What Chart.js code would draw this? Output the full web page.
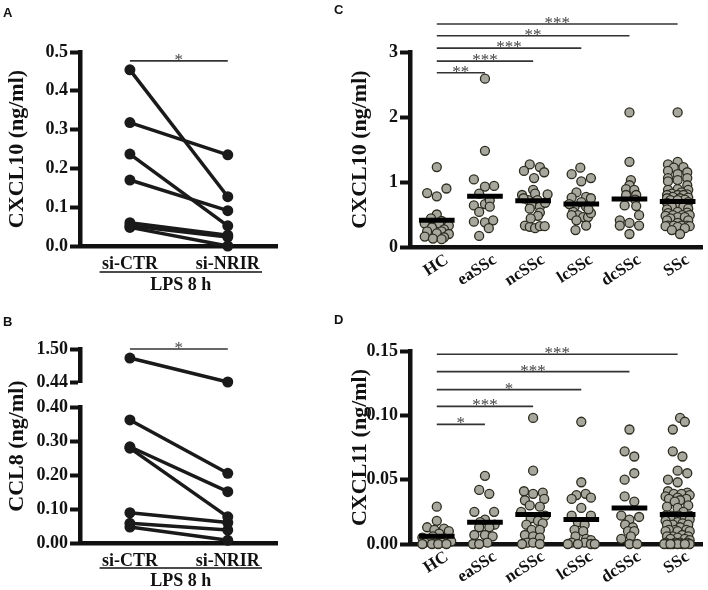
<!DOCTYPE html>
<html>
<head>
<meta charset="utf-8">
<script src="https://cdn.jsdelivr.net/npm/chart.js@4.4.1/dist/chart.umd.min.js"></script>
<style>
  html, body { margin: 0; padding: 0; background: #fff; }
  #fig { position: relative; width: 708px; height: 590px; overflow: hidden; }
  canvas { position: absolute; }
  .tag { position: absolute; font: bold 13px "Liberation Sans", Arial, sans-serif; color: #111; }
</style>
</head>
<body>
<div id="fig">
  <canvas id="chartA" width="300" height="295" style="left:0;top:0"></canvas>
  <canvas id="chartB" width="300" height="300" style="left:0;top:290px"></canvas>
  <canvas id="chartBTop" width="300" height="70" style="left:0;top:330px"></canvas>
  <canvas id="chartC" width="378" height="295" style="left:330px;top:0"></canvas>
  <canvas id="chartD" width="378" height="300" style="left:330px;top:290px"></canvas>
  <div class="tag" style="left:3px;top:5px">A</div>
  <div class="tag" style="left:3px;top:314px">B</div>
  <div class="tag" style="left:334px;top:2px">C</div>
  <div class="tag" style="left:334px;top:312px">D</div>
</div>
<script>
// panels A/B: paired siRNA values (ng/ml), index i of CTR pairs with index i of NRIR
const conditions = ["si-CTR", "si-NRIR"];
const cxcl10Ctr = [0.454, 0.318, 0.237, 0.170, 0.060, 0.052, 0.048];
const cxcl10Nrir = [0.127, 0.235, 0.052, 0.091, 0.028, 0.023, 0.0];
const ccl8Ctr = [1.21, 0.362, 0.283, 0.279, 0.089, 0.058, 0.047];
const ccl8Nrir = [0.44, 0.205, 0.151, 0.077, 0.060, 0.038, 0.008];
const ccl8LowTicks = [0, 0.1, 0.2, 0.3, 0.4];
const ccl8HighTicks = [0.44, 1.5];

// panels C/D: [value, jitter in category units]
const groups = ["HC", "eaSSc", "ncSSc", "lcSSc", "dcSSc", "SSc"];

const cxcl10HC = [[1.23,0],[0.90,0.2],[0.83,-0.2],[0.78,0],[0.50,0],[0.44,-0.12],[0.40,0.1],[0.36,-0.25],[0.36,0.05],[0.33,0.25],[0.30,-0.1],[0.27,0.15],[0.24,-0.2],[0.24,0.1],[0.21,0],[0.20,0.25],[0.16,-0.25],[0.15,0.15],[0.13,-0.08],[0.12,0.1]];
const cxcl10Ea = [[2.59,0],[1.48,0],[1.04,-0.23],[0.93,0],[0.94,0.19],[0.82,-0.12],[0.64,-0.23],[0.66,0],[0.72,0.1],[0.62,0.1],[0.54,-0.12],[0.39,-0.23],[0.38,0],[0.41,0.17],[0.29,0.08],[0.17,-0.12]];
const cxcl10Nc = [[1.27,-0.07],[1.17,-0.19],[1.23,0.14],[1.15,0.23],[1.06,0.02],[0.88,0],[0.82,0.04],[0.80,-0.23],[0.81,0.3],[0.72,-0.1],[0.72,0.09],[0.64,-0.03],[0.62,0.14],[0.59,-0.07],[0.53,0.14],[0.33,-0.17],[0.31,-0.07],[0.29,0.04],[0.32,0.14],[0.32,0.24],[0.75,-0.2],[0.68,0.25],[0.48,0.1],[0.44,-0.05]];
const cxcl10Lc = [[1.22,-0.02],[1.12,-0.2],[1.01,0],[1.06,0.2],[0.84,-0.1],[0.77,0.1],[0.75,0.2],[0.76,-0.2],[0.69,0],[0.62,-0.14],[0.62,0.1],[0.54,-0.17],[0.49,-0.07],[0.46,0.04],[0.46,0.14],[0.52,0.2],[0.49,-0.2],[0.33,0.1],[0.26,-0.12],[0.58,0.15],[0.66,-0.25],[0.41,-0.1]];
const cxcl10Dc = [[2.07,0],[1.31,0],[1.03,0.03],[0.95,0],[0.89,-0.07],[0.88,0.1],[0.80,-0.07],[0.80,0.14],[0.73,0.12],[0.64,-0.1],[0.63,0.14],[0.49,0.2],[0.41,-0.2],[0.33,-0.2],[0.37,0],[0.33,0.2],[0.20,0]];
const cxcl10SSc = [[2.07,0],[1.31,0],[1.27,-0.2],[1.23,0.12],[1.22,-0.08],[1.17,-0.2],[1.15,0.2],[1.12,0],[1.06,-0.2],[1.06,0.2],[1.03,0],[1.01,-0.2],[0.95,0.2],[0.89,0],[0.88,-0.2],[0.88,0.22],[0.84,0.08],[0.82,-0.12],[0.81,0.2],[0.80,-0.22],[0.80,0],[0.80,0.12],[0.77,-0.1],[0.76,0.22],[0.75,-0.22],[0.75,0.05],[0.73,0.15],[0.72,-0.15],[0.72,0],[0.69,0.22],[0.68,-0.22],[0.66,0.1],[0.64,-0.08],[0.64,0.2],[0.63,-0.2],[0.62,0],[0.62,0.12],[0.62,-0.12],[0.59,0.22],[0.58,-0.22],[0.54,0],[0.53,0.2],[0.52,-0.2],[0.49,0.1],[0.49,-0.1],[0.49,0.25],[0.48,-0.25],[0.46,0],[0.46,0.15],[0.44,-0.15],[0.41,0.22],[0.41,-0.22],[0.37,0],[0.33,-0.2],[0.33,0.2],[0.33,0.08],[0.33,-0.08],[0.32,0.25],[0.32,-0.25],[0.31,0],[0.29,0.15],[0.26,-0.12],[0.20,0.05]];
const cxcl10Means = [0.41, 0.78, 0.71, 0.66, 0.74, 0.70];
const cxcl10Brackets = [[1, 2.68, "**"], [2, 2.86, "***"], [3, 3.06, "***"], [4, 3.25, "**"], [5, 3.43, "***"]];

const cxcl11HC = [[0.029,0],[0.018,0],[0.013,-0.2],[0.012,0.15],[0.011,-0.05],[0.010,0.25],[0.008,0.05],[0.006,-0.08],[0.005,-0.3],[0.004,0.18],[0.003,-0.15],[0.002,0.3],[0.001,-0.25],[0.001,0.1],[0,-0.1],[0,0.03],[0,0.2],[0,-0.3]];
const cxcl11Ea = [[0.053,0],[0.042,-0.12],[0.039,0.09],[0.025,-0.22],[0.025,0.19],[0.019,0],[0.017,-0.1],[0.015,0.2],[0.013,-0.12],[0.013,0.09],[0.007,-0.22],[0.007,0],[0.006,0.16],[0.001,0.05],[0,-0.25],[0,-0.12]];
const cxcl11Nc = [[0.098,0],[0.057,0],[0.041,-0.19],[0.040,0.2],[0.039,0],[0.035,0.23],[0.034,-0.17],[0.030,-0.07],[0.029,0.14],[0.025,-0.25],[0.022,0.25],[0.020,-0.05],[0.018,0.1],[0.016,0.2],[0.015,-0.14],[0.011,-0.03],[0.011,0.14],[0.007,-0.17],[0.006,0],[0.005,0.14],[0.001,-0.12],[0.001,0],[0,-0.23],[0,0.14]];
const cxcl11Lc = [[0.095,0],[0.048,0],[0.039,0.09],[0.038,-0.1],[0.036,0.2],[0.035,-0.2],[0.028,0],[0.022,-0.2],[0.022,0.2],[0.017,-0.07],[0.015,0.07],[0.011,-0.14],[0.010,0.04],[0.006,-0.12],[0.004,0.1],[0.003,0.2],[0.001,-0.2],[0.001,0.07],[0,-0.07],[0,0.2],[0,-0.28],[0,0.28]];
const cxcl11Dc = [[0.089,0],[0.072,-0.1],[0.068,0.1],[0.055,0.1],[0.050,-0.1],[0.037,-0.1],[0.033,0.1],[0.022,-0.17],[0.021,0.2],[0.019,0],[0.015,-0.09],[0.013,0.07],[0.010,-0.03],[0.010,0.1],[0.006,0.03],[0.004,-0.17],[0,0],[0,0.16]];
const cxcl11SSc = [[0.098,0.05],[0.095,0.15],[0.089,-0.1],[0.072,-0.1],[0.068,0.1],[0.057,0],[0.055,0.2],[0.050,-0.2],[0.048,0],[0.041,-0.2],[0.040,0.2],[0.039,-0.08],[0.039,0.08],[0.038,0.25],[0.037,-0.25],[0.036,0],[0.035,0.18],[0.035,-0.18],[0.034,0.05],[0.033,-0.06],[0.030,0.22],[0.029,-0.22],[0.028,0],[0.025,0.12],[0.022,-0.12],[0.022,0.25],[0.022,-0.25],[0.022,0.02],[0.021,0.15],[0.020,-0.15],[0.019,0.25],[0.018,-0.25],[0.017,0],[0.016,0.1],[0.015,-0.1],[0.015,0.22],[0.015,-0.22],[0.013,0.05],[0.011,-0.05],[0.011,0.18],[0.011,-0.18],[0.010,0.25],[0.010,-0.25],[0.010,0],[0.007,0.1],[0.006,-0.1],[0.006,0.22],[0.006,-0.22],[0.005,0],[0.004,0.15],[0.004,-0.15],[0.003,0.25],[0.001,-0.25],[0.001,0.05],[0.001,-0.05],[0.001,0.2],[0,-0.2],[0,0.1],[0,-0.1],[0,0.25],[0,-0.28],[0,0],[0,0.15],[0,-0.15]];
const cxcl11Means = [0.006, 0.017, 0.023, 0.019, 0.028, 0.023];
const cxcl11Brackets = [[1, 0.093, "*"], [2, 0.107, "***"], [3, 0.120, "*"], [4, 0.134, "***"], [5, 0.1475, "***"]];

const ink = "#111";
const serif = '"Liberation Serif", "Times New Roman", serif';
const tickFont = { family: serif, size: 18, weight: "bold" };

// significance lines + stars, drawn through the chart scales
const bracketPlugin = {
  id: "brackets",
  afterDraw(chart, args, opts) {
    if (!opts.items) return;
    const { ctx, scales: { x, y } } = chart;
    ctx.save();
    opts.items.forEach(([to, val, label]) => {
      const x1 = x.getPixelForValue(0), x2 = x.getPixelForValue(to), py = y.getPixelForValue(val);
      ctx.strokeStyle = "#333";
      ctx.lineWidth = 1.6;
      ctx.beginPath();
      ctx.moveTo(x1, py);
      ctx.lineTo(x2, py);
      ctx.stroke();
      ctx.fillStyle = "#444";
      ctx.font = "17px " + serif;
      ctx.textAlign = "center";
      ctx.textBaseline = "alphabetic";
      ctx.fillText(label, (x1 + x2) / 2, py + 4);
    });
    ctx.restore();
  },
};

// underline + "LPS 8 h" below the x labels
const groupLabelPlugin = {
  id: "groupLabel",
  afterDraw(chart, args, opts) {
    if (!opts.text) return;
    const { ctx, scales: { x }, chartArea } = chart;
    const x1 = x.getPixelForValue(-0.31), x2 = x.getPixelForValue(1.35);
    const y = chartArea.bottom + opts.gap;
    ctx.save();
    ctx.strokeStyle = ink;
    ctx.lineWidth = 1.5;
    ctx.beginPath();
    ctx.moveTo(x1, y);
    ctx.lineTo(x2, y);
    ctx.stroke();
    ctx.fillStyle = ink;
    ctx.font = "bold 18px " + serif;
    ctx.textAlign = "center";
    ctx.textBaseline = "middle";
    ctx.fillText(opts.text, (x1 + x2) / 2, y + 13);
    ctx.restore();
  },
};

// y title spanning both halves of the broken axis in B
const splitTitlePlugin = {
  id: "splitTitle",
  afterDraw(chart, args, opts) {
    if (!opts.text) return;
    const { ctx } = chart;
    ctx.save();
    ctx.translate(opts.x, opts.y);
    ctx.rotate(-Math.PI / 2);
    ctx.fillStyle = ink;
    ctx.font = "bold 22px " + serif;
    ctx.textAlign = "center";
    ctx.textBaseline = "middle";
    ctx.fillText(opts.text, 0, 0);
    ctx.restore();
  },
};

Chart.register(bracketPlugin, groupLabelPlugin, splitTitlePlugin);

function yScale(min, max, step, digits, title, titlePad, ticks) {
  const s = {
    type: "linear", min, max,
    afterFit: (sc) => { sc.width = 80; },
    border: { color: ink, width: 4.5 },
    grid: { drawOnChartArea: false, drawTicks: true, tickLength: 10, tickWidth: 4, color: ink },
    ticks: { color: ink, font: tickFont, padding: 2, stepSize: step, callback: (v) => Number(v).toFixed(digits) },
    title: { display: !!title, text: title, color: ink, font: { family: serif, size: 22, weight: "bold" }, padding: { top: titlePad, bottom: 0 } },
  };
  if (ticks) s.afterBuildTicks = (sc) => { sc.ticks = ticks.map((v) => ({ value: v })); };
  return s;
}

function xScale(min, max, names, height, rotation, show) {
  return {
    type: "linear", min, max, display: show, z: 1,
    afterFit: (sc) => { sc.height = height; },
    afterBuildTicks: (sc) => { sc.ticks = names.map((n, i) => ({ value: i })); },
    border: { color: ink, width: 4.5 },
    grid: { display: false, drawTicks: false },
    ticks: { color: ink, font: { family: serif, size: rotation ? 17 : 18, weight: "bold" }, padding: rotation ? 3 : 8,
      labelOffset: rotation ? 10 : 0,
      autoSkip: false, minRotation: rotation, maxRotation: rotation, callback: (v) => names[v] },
  };
}

function pairSets(ctr, nrir, keep) {
  return ctr.map((v, i) => [v, nrir[i]]).filter(keep).map(([a, b]) => ({
    data: [{ x: 0, y: a }, { x: 1, y: b }],
    showLine: true, borderColor: "#1a1a1a", borderWidth: 3.5,
    pointRadius: 5.5, pointBackgroundColor: "#1a1a1a", pointBorderWidth: 0, clip: false,
  }));
}

function groupSets(lists, means) {
  const sets = lists.map((pts, i) => ({
    data: pts.map(([v, off]) => ({ x: i + off, y: v })),
    showLine: false, pointRadius: 4.5, pointBackgroundColor: "#a7a79e",
    pointBorderColor: "#2c2b1f", pointBorderWidth: 1.3, clip: false, order: 2,
  }));
  means.forEach((m, i) => sets.push({
    data: [{ x: i - 0.37, y: m }, { x: i + 0.37, y: m }],
    showLine: true, borderColor: "#000", borderWidth: 5, pointRadius: 0, clip: false, order: 1,
  }));
  return sets;
}

function baseOptions(padding, scales, plugins) {
  return {
    responsive: false, animation: false,
    layout: { padding },
    scales,
    plugins: Object.assign({ legend: { display: false }, tooltip: { enabled: false } }, plugins),
  };
}

// A
new Chart(document.getElementById("chartA"), {
  type: "scatter",
  data: { datasets: pairSets(cxcl10Ctr, cxcl10Nrir, () => true) },
  options: baseOptions({ top: 52, right: 23, left: 0, bottom: 0 }, {
    x: xScale(-0.51, 1.503, conditions, 49, 0, true),
    y: yScale(0, 0.5, 0.1, 1, "CXCL10 (ng/ml)", 4),
  }, {
    brackets: { items: [[1, 0.477, "*"]] },
    groupLabel: { text: "LPS 8 h", gap: 26 },
  }),
});

// B, lower part of the broken axis
new Chart(document.getElementById("chartB"), {
  type: "scatter",
  data: { datasets: pairSets(ccl8Ctr, ccl8Nrir, ([a, b]) => a <= 0.4 && b <= 0.4) },
  options: baseOptions({ top: 117, right: 23, left: 0, bottom: 0 }, {
    x: xScale(-0.51, 1.503, conditions, 47, 0, true),
    y: yScale(0, 0.4, 0.1, 2, "", 0, ccl8LowTicks),
  }, {
    groupLabel: { text: "LPS 8 h", gap: 25 },
    splitTitle: { text: "CCL8 (ng/ml)", x: 17, y: 156 },
  }),
});

// B, upper part of the broken axis
new Chart(document.getElementById("chartBTop"), {
  type: "scatter",
  data: { datasets: pairSets(ccl8Ctr, ccl8Nrir, ([a, b]) => a >= 0.44 && b >= 0.44) },
  options: baseOptions({ top: 19, right: 23, left: 0, bottom: 18 }, {
    x: xScale(-0.51, 1.503, conditions, 0, 0, false),
    y: yScale(0.44, 1.5, 1, 2, "", 0, ccl8HighTicks),
  }, {
    brackets: { items: [[1, 1.5, "*"]] },
  }),
});

// C
new Chart(document.getElementById("chartC"), {
  type: "scatter",
  data: { datasets: groupSets([cxcl10HC, cxcl10Ea, cxcl10Nc, cxcl10Lc, cxcl10Dc, cxcl10SSc], cxcl10Means) },
  options: baseOptions({ top: 52, right: 3, left: 0, bottom: 0 }, {
    x: xScale(-0.556, 5.51, groups, 48, 33, true),
    y: yScale(0, 3, 1, 0, "CXCL10 (ng/ml)", 17),
  }, {
    brackets: { items: cxcl10Brackets },
  }),
});

// D
new Chart(document.getElementById("chartD"), {
  type: "scatter",
  data: { datasets: groupSets([cxcl11HC, cxcl11Ea, cxcl11Nc, cxcl11Lc, cxcl11Dc, cxcl11SSc], cxcl11Means) },
  options: baseOptions({ top: 61, right: 3, left: 0, bottom: 0 }, {
    x: xScale(-0.556, 5.51, groups, 46, 33, true),
    y: yScale(0, 0.15, 0.05, 2, "CXCL11 (ng/ml)", 17),
  }, {
    brackets: { items: cxcl11Brackets },
  }),
});
</script>
</body>
</html>
